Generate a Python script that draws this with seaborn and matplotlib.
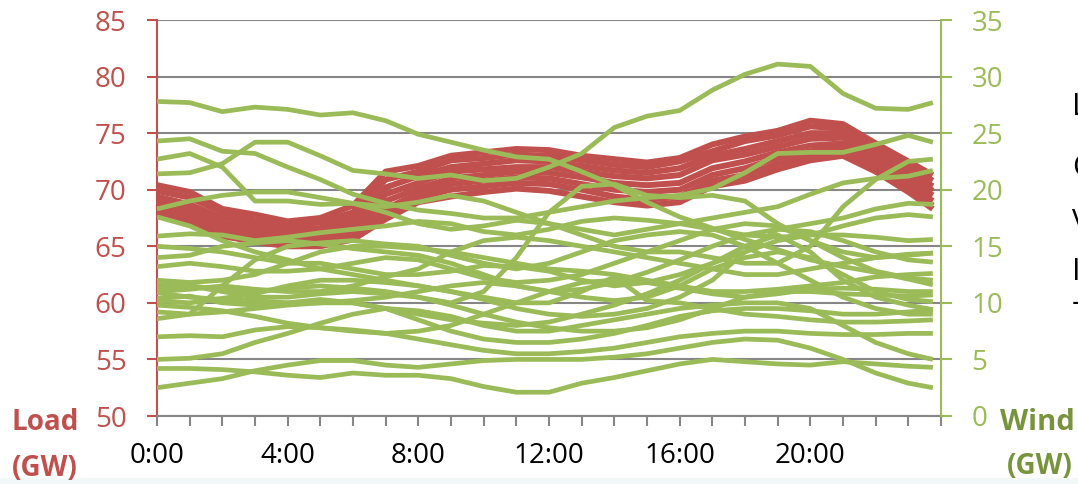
import matplotlib
matplotlib.use("Agg")
import matplotlib.pyplot as plt
import pandas as pd
import seaborn as sns
from matplotlib.patches import Rectangle

# ---------------- data ----------------
hours = [0, 1, 2, 3, 4, 5, 6, 7, 8, 9, 10, 11, 12, 13, 14, 15, 16, 17, 18, 19, 20, 21, 22, 23, 23.75]
hour_ticks = list(range(25))
hour_labels = ["0:00" if h == 0 else (f"{h}:00" if h % 4 == 0 and h < 24 else "") for h in hour_ticks]
load_ticks = [50, 55, 60, 65, 70, 75, 80, 85]
wind_ticks = [0, 5, 10, 15, 20, 25, 30, 35]

# load (GW), one list per day
load_1 = [70.4, 69.8, 68.3, 67.8, 67.2, 67.5, 68.6, 71.6, 72.1, 73.0, 73.3, 73.6, 73.5, 73.0, 72.7, 72.4, 72.8, 74.0, 74.7, 75.2, 76.1, 75.8, 74.1, 72.5, 71.3]
load_2 = [69.9, 69.3, 68.0, 67.3, 66.9, 67.1, 68.0, 70.9, 71.6, 72.6, 72.8, 73.1, 73.0, 72.6, 72.2, 72.0, 72.5, 73.4, 74.3, 74.8, 75.6, 75.4, 73.7, 72.0, 70.8]
load_3 = [69.4, 68.7, 67.5, 67.0, 66.5, 66.6, 67.5, 70.2, 71.2, 72.0, 72.3, 72.6, 72.5, 72.1, 71.7, 71.5, 71.9, 73.0, 73.6, 74.3, 75.0, 75.0, 73.3, 71.6, 70.3]
load_4 = [69.0, 68.4, 67.0, 66.6, 66.1, 66.2, 67.0, 69.6, 70.6, 71.6, 71.8, 72.0, 72.0, 71.6, 71.2, 71.0, 71.3, 72.6, 73.1, 73.8, 74.5, 74.6, 72.8, 71.2, 69.9]
load_5 = [68.7, 68.0, 66.7, 66.2, 65.8, 65.9, 66.6, 69.0, 70.1, 71.0, 71.3, 71.6, 71.5, 71.1, 70.6, 70.4, 70.6, 71.9, 72.5, 73.3, 73.9, 74.1, 72.5, 70.8, 69.5]
load_6 = [68.4, 67.7, 66.4, 65.9, 65.5, 65.6, 66.2, 68.3, 69.7, 70.5, 70.8, 71.1, 71.0, 70.5, 70.0, 69.8, 70.0, 71.3, 71.9, 72.8, 73.4, 73.7, 72.1, 70.4, 69.0]
load_7 = [68.1, 67.4, 66.1, 65.6, 65.2, 65.3, 65.9, 67.8, 69.3, 70.0, 70.3, 70.6, 70.5, 70.0, 69.4, 69.1, 69.4, 70.8, 71.3, 72.3, 73.0, 73.3, 71.8, 70.1, 68.6]
load_8 = [67.9, 67.2, 65.9, 65.4, 65.0, 65.0, 65.6, 67.4, 68.9, 69.4, 69.8, 70.1, 69.9, 69.4, 68.9, 68.6, 68.9, 70.3, 70.8, 71.8, 72.6, 73.0, 71.6, 69.8, 68.3]

# wind (GW), one list per day
wind_01 = [27.8, 27.7, 26.9, 27.3, 27.1, 26.6, 26.8, 26.1, 24.9, 24.2, 23.5, 22.9, 22.7, 21.6, 20.4, 18.9, 17.6, 16.6, 15.6, 14.7, 13.8, 13.2, 12.7, 12.1, 11.6]
wind_02 = [21.4, 21.5, 22.3, 24.2, 24.2, 23.0, 21.7, 21.4, 21.0, 21.3, 20.8, 21.0, 22.0, 23.2, 25.5, 26.5, 27.0, 28.8, 30.2, 31.1, 30.9, 28.5, 27.2, 27.1, 27.7]
wind_03 = [24.3, 24.5, 23.4, 23.2, 22.0, 20.9, 19.6, 18.8, 18.2, 17.9, 17.5, 17.5, 18.0, 18.5, 19.0, 19.3, 19.5, 20.1, 21.5, 23.2, 23.3, 23.3, 24.0, 24.8, 24.2]
wind_04 = [22.7, 23.2, 22.0, 19.0, 19.0, 18.7, 18.8, 18.0, 17.0, 16.5, 16.8, 17.3, 17.0, 16.5, 16.0, 16.5, 17.0, 17.5, 18.0, 18.5, 19.6, 20.6, 21.0, 21.2, 21.7]
wind_05 = [18.3, 19.0, 19.5, 19.8, 19.8, 19.3, 18.8, 18.5, 18.9, 19.5, 19.0, 18.0, 17.0, 16.0, 15.0, 14.5, 14.5, 14.0, 13.5, 13.5, 15.0, 18.5, 20.9, 22.5, 22.7]
wind_06 = [17.6, 16.8, 15.5, 14.5, 13.8, 13.0, 12.5, 12.0, 11.5, 11.0, 10.3, 9.5, 9.0, 8.8, 9.0, 9.5, 10.5, 12.0, 14.5, 16.5, 17.0, 17.5, 18.3, 18.8, 18.7]
wind_07 = [15.9, 16.1, 16.0, 15.5, 15.8, 16.2, 16.5, 16.8, 17.2, 17.0, 16.3, 16.0, 16.5, 17.2, 17.5, 17.3, 17.0, 16.5, 16.0, 15.8, 16.0, 16.8, 17.5, 17.8, 17.6]
wind_08 = [15.0, 14.8, 14.5, 14.0, 13.5, 13.5, 13.0, 12.5, 12.5, 12.8, 13.3, 13.2, 12.8, 12.0, 11.5, 11.8, 12.5, 13.5, 14.5, 15.5, 16.0, 16.0, 15.8, 15.5, 15.6]
wind_09 = [14.0, 14.2, 15.0, 15.3, 15.5, 15.2, 14.8, 14.5, 14.2, 13.5, 12.5, 11.5, 11.0, 11.2, 11.8, 12.7, 13.8, 15.0, 16.0, 16.5, 16.3, 15.5, 14.5, 13.8, 13.6]
wind_10 = [13.2, 13.5, 13.2, 12.8, 12.8, 13.0, 13.5, 14.0, 13.8, 13.0, 12.2, 11.8, 12.0, 12.5, 13.5, 14.5, 15.5, 16.5, 17.0, 16.8, 15.5, 14.0, 12.8, 12.2, 12.0]
wind_11 = [12.0, 11.8, 12.0, 12.5, 13.5, 14.5, 15.0, 15.0, 14.8, 14.5, 14.0, 13.5, 13.0, 12.8, 12.5, 12.0, 11.5, 11.0, 11.0, 11.2, 11.5, 11.8, 12.3, 12.5, 12.6]
wind_12 = [11.6, 11.5, 11.2, 11.0, 11.3, 11.5, 11.3, 11.0, 10.5, 9.8, 9.0, 8.3, 7.8, 7.5, 7.5, 7.8, 8.5, 9.5, 10.5, 11.0, 11.0, 10.8, 10.7, 10.6, 10.7]
wind_13 = [10.9, 10.5, 10.3, 10.2, 10.0, 10.0, 10.2, 10.5, 11.0, 11.5, 11.8, 11.5, 11.0, 10.5, 10.2, 10.5, 11.5, 13.0, 14.0, 14.5, 14.0, 12.5, 11.0, 10.3, 10.1]
wind_14 = [10.4, 10.6, 10.0, 9.8, 10.0, 10.3, 10.0, 9.5, 9.0, 8.5, 8.2, 8.0, 8.3, 9.0, 9.8, 10.8, 12.0, 13.5, 15.0, 16.0, 14.5, 12.0, 10.5, 9.8, 9.4]
wind_15 = [10.2, 10.0, 10.4, 10.8, 11.5, 12.0, 12.0, 11.8, 11.5, 11.0, 10.5, 10.0, 10.0, 11.0, 12.3, 10.2, 10.0, 9.5, 9.0, 8.8, 8.5, 8.3, 8.3, 8.4, 8.5]
wind_16 = [9.2, 9.0, 9.2, 9.5, 9.8, 10.0, 10.0, 9.5, 8.5, 7.5, 6.8, 6.5, 6.5, 6.8, 7.3, 8.0, 8.8, 9.3, 9.5, 9.5, 9.3, 9.0, 9.0, 9.2, 9.4]
wind_17 = [8.6, 9.0, 11.5, 13.8, 15.0, 15.3, 15.5, 15.2, 15.0, 14.2, 13.5, 13.0, 13.5, 14.5, 15.5, 16.0, 16.3, 16.0, 15.0, 13.5, 12.0, 10.5, 9.5, 9.0, 9.0]
wind_18 = [7.0, 7.1, 7.0, 7.6, 7.9, 7.8, 7.6, 7.3, 6.8, 6.3, 5.8, 5.5, 5.5, 5.7, 6.0, 6.5, 7.0, 7.3, 7.5, 7.5, 7.3, 7.2, 7.2, 7.3, 7.3]
wind_19 = [5.0, 5.1, 5.5, 6.5, 7.3, 8.2, 9.0, 9.5, 9.3, 8.8, 8.0, 7.5, 7.5, 8.0, 8.5, 9.0, 9.5, 9.8, 10.0, 10.0, 9.5, 8.0, 6.5, 5.5, 5.0]
wind_20 = [4.2, 4.2, 4.1, 3.9, 3.6, 3.4, 3.8, 3.6, 3.6, 3.3, 2.6, 2.1, 2.1, 2.9, 3.4, 4.0, 4.6, 5.0, 4.8, 4.6, 4.5, 4.8, 4.6, 4.4, 4.3]
wind_21 = [2.5, 2.9, 3.3, 4.0, 4.5, 4.9, 4.9, 4.5, 4.3, 4.6, 4.9, 5.0, 5.0, 5.0, 5.2, 5.5, 6.0, 6.5, 6.8, 6.7, 6.0, 5.0, 3.8, 2.9, 2.5]
wind_22 = [11.0, 11.2, 11.5, 11.2, 11.0, 11.0, 11.5, 12.3, 13.0, 14.5, 15.5, 15.8, 15.5, 15.0, 14.5, 14.0, 13.5, 13.0, 12.5, 12.5, 13.0, 13.5, 14.0, 14.3, 14.4]
wind_23 = [9.8, 9.6, 9.3, 8.8, 8.2, 7.8, 7.5, 7.3, 7.5, 8.0, 9.0, 10.0, 11.0, 11.8, 12.0, 11.8, 11.3, 10.8, 10.5, 10.8, 11.2, 11.3, 11.2, 11.0, 11.0]
wind_24 = [11.3, 11.5, 11.0, 10.5, 10.5, 10.8, 11.0, 10.8, 10.5, 10.0, 11.0, 14.0, 18.0, 20.3, 20.5, 19.5, 19.3, 19.5, 19.0, 17.0, 15.5, 14.5, 14.0, 14.2, 14.4]

load_series = [load_1, load_2, load_3, load_4, load_5, load_6, load_7, load_8]
wind_series = [wind_01, wind_02, wind_03, wind_04, wind_05, wind_06, wind_07, wind_08,
               wind_09, wind_10, wind_11, wind_12, wind_13, wind_14, wind_15, wind_16,
               wind_17, wind_18, wind_19, wind_20, wind_21, wind_22, wind_23, wind_24]

# ---------------- style ----------------
RED = "#C0504D"
GREEN = "#9BBB59"
DARKGREEN = "#77933C"
GRID = "#868686"

sns.set_style("white")
plt.rcParams["font.family"] = ["Open Sans", "DejaVu Sans"]
plt.rcParams["lines.solid_joinstyle"] = "round"
plt.rcParams["lines.solid_capstyle"] = "butt"

W, H = 1078, 484
fig = plt.figure(figsize=(W / 100, H / 100), dpi=100)
fig.patch.set_facecolor("white")
fig.add_artist(Rectangle((0, 0), 1, 6 / H, transform=fig.transFigure,
                         facecolor="#F2F7F7", edgecolor="none", zorder=0))

ax = fig.add_axes([157 / W, 1 - 416 / H, (941 - 157) / W, (416 - 20) / H])
ax2 = ax.twinx()

load_df = pd.DataFrame([(h, v, i) for i, s in enumerate(load_series) for h, v in zip(hours, s)],
                       columns=["hour", "load", "day"])
wind_df = pd.DataFrame([(h, v, i) for i, s in enumerate(wind_series) for h, v in zip(hours, s)],
                       columns=["hour", "wind", "day"])

sns.lineplot(data=load_df, x="hour", y="load", units="day", estimator=None,
             color=RED, lw=4.3, ax=ax, legend=False)
sns.lineplot(data=wind_df, x="hour", y="wind", units="day", estimator=None,
             color=GREEN, lw=3.4, ax=ax2, legend=False)

ax.set_xlim(0, 24)
ax.set_ylim(50, 85)
ax2.set_ylim(0, 35)
ax.set_yticks(load_ticks)
ax2.set_yticks(wind_ticks)
ax.set_xticks(hour_ticks)
ax.set_xticklabels(hour_labels)
ax.set_xlabel("")
ax.set_ylabel("")
ax2.set_ylabel("")

ax.yaxis.grid(True, color=GRID, lw=1.5)
ax.xaxis.grid(False)
ax2.grid(False)
ax.set_axisbelow(True)

for sp in ["top", "right"]:
    ax.spines[sp].set_visible(False)
for sp in ["top", "left", "bottom"]:
    ax2.spines[sp].set_visible(False)
ax.spines["left"].set_color(RED)
ax.spines["left"].set_linewidth(1.5)
ax.spines["bottom"].set_color(GRID)
ax.spines["bottom"].set_linewidth(1.5)
ax2.spines["right"].set_color(GREEN)
ax2.spines["right"].set_linewidth(1.5)

ax.tick_params(axis="y", direction="out", length=7, width=1.5, color=RED,
               labelcolor=RED, labelsize=20, pad=15, left=True)
ax2.tick_params(axis="y", direction="out", length=8, width=1.5, color=GREEN,
                labelcolor=GREEN, labelsize=20, pad=14, right=True)
ax.tick_params(axis="x", direction="out", length=7, width=1.5, color=GRID,
               labelcolor="black", labelsize=20, pad=12, bottom=True)

fig.text(45 / W, 1 - 423 / H, "Load", color=RED, fontsize=20, fontweight="bold",
         ha="center", va="center")
fig.text(45 / W, 1 - 468 / H, "(GW)", color=RED, fontsize=20, fontweight="bold",
         ha="center", va="center")
fig.text(1037 / W, 1 - 422 / H, "Wind", color=DARKGREEN, fontsize=21, fontweight="bold",
         ha="center", va="center")
fig.text(1040 / W, 1 - 467 / H, "(GW)", color=DARKGREEN, fontsize=20, fontweight="bold",
         ha="center", va="center")

# partially visible text block at the right edge (cut off in the reference too)
for ch, yy in [("L", 107), ("C", 168), ("v", 218), ("I", 272), ("-", 303)]:
    fig.text(1072 / W, 1 - yy / H, ch, color="black", fontsize=22,
             ha="left", va="center")

fig.savefig("out.png", dpi=100)
